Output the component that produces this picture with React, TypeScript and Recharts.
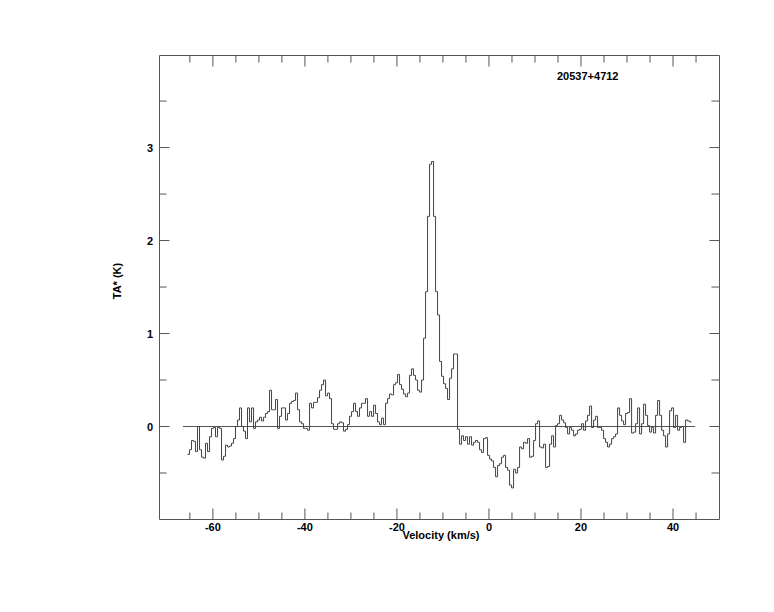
import React from 'react';
import { LineChart, Line, XAxis, YAxis, ReferenceLine } from 'recharts';

// Spectrum of source 20537+4712 : antenna temperature per velocity channel
const SOURCE_NAME = '20537+4712';
const CHANNEL_START = -65.51; // km/s, left edge of first channel
const CHANNEL_WIDTH = 0.4347; // km/s
const TA_VALUES = [
  -0.30, -0.25, -0.15, -0.16, -0.27, 0.00, -0.25, -0.33, -0.34, -0.18,
  -0.27, -0.11, -0.02, -0.01, -0.11, -0.01, -0.02, -0.36, -0.32, -0.20,
  -0.22, -0.21, -0.18, -0.13, 0.00, 0.07, 0.20, 0.00, -0.05, -0.13,
  0.20, 0.05, 0.20, -0.02, 0.05, 0.07, 0.10, 0.06, 0.10, 0.14,
  0.16, 0.39, 0.18, 0.18, 0.29, -0.02, 0.11, 0.20, 0.20, 0.07,
  0.14, 0.25, 0.27, 0.28, 0.36, 0.18, 0.05, 0.03, -0.02, -0.02,
  -0.04, 0.25, 0.20, 0.26, 0.26, 0.31, 0.39, 0.45, 0.50, 0.33,
  0.36, 0.30, 0.03, -0.03, -0.03, 0.03, 0.05, 0.04, -0.05, -0.03,
  0.02, 0.11, 0.16, 0.25, 0.16, 0.11, 0.20, 0.25, 0.25, 0.30,
  0.11, 0.16, 0.11, 0.23, 0.14, 0.05, 0.02, 0.09, 0.02, 0.25,
  0.30, 0.35, 0.34, 0.45, 0.47, 0.56, 0.45, 0.40, 0.35, 0.32,
  0.36, 0.55, 0.62, 0.55, 0.50, 0.39, 0.37, 0.50, 0.95, 1.45,
  2.26, 2.82, 2.85, 2.26, 1.45, 1.20, 0.70, 0.54, 0.46, 0.41,
  0.29, 0.52, 0.62, 0.78, 0.78, -0.03, -0.19, -0.10, -0.15, -0.11,
  -0.19, -0.11, -0.20, -0.17, -0.15, -0.17, -0.25, -0.28, -0.13, -0.12,
  -0.31, -0.35, -0.37, -0.44, -0.54, -0.42, -0.40, -0.33, -0.31, -0.44,
  -0.47, -0.63, -0.66, -0.46, -0.50, -0.44, -0.22, -0.24, -0.17, -0.18,
  -0.13, -0.33, -0.32, -0.15, 0.03, 0.06, -0.22, -0.23, -0.19, -0.44,
  -0.43, -0.19, -0.10, -0.22, 0.01, 0.03, 0.12, 0.07, 0.04, -0.01,
  -0.08, -0.01, -0.04, -0.10, -0.08, -0.04, -0.03, 0.03, -0.04, 0.06,
  0.12, 0.22, -0.01, 0.07, 0.11, -0.01, -0.01, -0.04, -0.13, -0.17,
  -0.22, -0.19, -0.13, -0.11, -0.08, 0.20, 0.12, 0.06, 0.02, 0.14,
  0.15, 0.30, -0.07, -0.06, 0.03, 0.20, -0.08, 0.03, 0.24, 0.12,
  0.01, -0.06, -0.01, -0.07, 0.12, 0.28, 0.12, -0.04, -0.10, -0.22,
  -0.08, 0.17, 0.20, -0.01, 0.12, -0.04, -0.01, 0.00, -0.17, 0.07,
  0.06, 0.05,
];
const X_TICKS = [-65, -60, -55, -50, -45, -40, -35, -30, -25, -20, -15, -10, -5, 0, 5, 10, 15, 20, 25, 30, 35, 40, 45];
const X_LABELS = [-60, -40, -20, 0, 20, 40];
const Y_TICKS = [-0.5, 0, 0.5, 1, 1.5, 2, 2.5, 3, 3.5];
const Y_LABELS = [0, 1, 2, 3];
const BASELINE_RANGE = [-66.5, 44.8];
const X_DOMAIN = [-71.6, 50.1];
const Y_DOMAIN = [-1, 3.99];

const data = TA_VALUES.map((t, i) => ({ v: CHANNEL_START + i * CHANNEL_WIDTH, t }));
data.push({ v: CHANNEL_START + TA_VALUES.length * CHANNEL_WIDTH, t: TA_VALUES[TA_VALUES.length - 1] });

const AX = '#555';
const FONT = '"Liberation Sans", Arial, Helvetica, sans-serif';

const BottomTick = (props: any) => {
  const { x, y, payload } = props;
  const v = payload.value;
  const major = X_LABELS.includes(v);
  return (
    <g>
      <line x1={x} x2={x} y1={y} y2={y - (major ? 11 : 7)} stroke={AX} strokeWidth={1} />
      {major && (
        <text x={x} y={y + 11} textAnchor="middle" fontSize={11} fontWeight="bold" fontFamily={FONT} fill="#000">
          {`${v}`}
        </text>
      )}
    </g>
  );
};

const TopTick = (props: any) => {
  const { x, y, payload } = props;
  const major = X_LABELS.includes(payload.value);
  return <line x1={x} x2={x} y1={y} y2={y + (major ? 11 : 7)} stroke={AX} strokeWidth={1} />;
};

const LeftTick = (props: any) => {
  const { x, y, payload } = props;
  const v = payload.value;
  const major = Y_LABELS.includes(v);
  return (
    <g>
      <line x1={x} x2={x + (major ? 10 : 7)} y1={y} y2={y} stroke={AX} strokeWidth={1} />
      {major && (
        <text x={x - 6.5} y={y + 4.5} textAnchor="end" fontSize={11} fontWeight="bold" fontFamily={FONT} fill="#000">
          {`${v}`}
        </text>
      )}
    </g>
  );
};

const RightTick = (props: any) => {
  const { x, y, payload } = props;
  const major = Y_LABELS.includes(payload.value);
  return <line x1={x} x2={x - (major ? 10 : 8)} y1={y} y2={y} stroke={AX} strokeWidth={1} />;
};

export default function App() {
  const W = 758;
  const H = 596;
  return (
    <div style={{ position: 'relative', width: W, height: H }}>
      <LineChart
        width={W}
        height={H}
        data={data}
        margin={{ top: 37.5, right: 36.5, bottom: 54.5, left: 111.5 }}
      >
        <XAxis
          xAxisId="bottom"
          dataKey="v"
          type="number"
          orientation="bottom"
          domain={X_DOMAIN}
          allowDataOverflow
          ticks={X_TICKS}
          interval={0}
          height={30}
          tickSize={0}
          tickMargin={0}
          tickLine={false}
          axisLine={{ stroke: AX, strokeWidth: 1 }}
          tick={<BottomTick />}
        />
        <XAxis
          xAxisId="top"
          dataKey="v"
          type="number"
          orientation="top"
          domain={X_DOMAIN}
          allowDataOverflow
          ticks={X_TICKS}
          interval={0}
          height={10}
          tickSize={0}
          tickMargin={0}
          tickLine={false}
          axisLine={{ stroke: AX, strokeWidth: 1 }}
          tick={<TopTick />}
        />
        <YAxis
          yAxisId="left"
          type="number"
          orientation="left"
          domain={Y_DOMAIN}
          allowDataOverflow
          ticks={Y_TICKS}
          interval={0}
          width={40}
          tickSize={0}
          tickMargin={0}
          tickLine={false}
          axisLine={{ stroke: AX, strokeWidth: 1 }}
          tick={<LeftTick />}
        />
        <YAxis
          yAxisId="right"
          type="number"
          orientation="right"
          domain={Y_DOMAIN}
          allowDataOverflow
          ticks={Y_TICKS}
          interval={0}
          width={10}
          tickSize={0}
          tickMargin={0}
          tickLine={false}
          axisLine={{ stroke: AX, strokeWidth: 1 }}
          tick={<RightTick />}
        />
        <ReferenceLine
          xAxisId="bottom"
          yAxisId="left"
          segment={[
            { x: BASELINE_RANGE[0], y: 0 },
            { x: BASELINE_RANGE[1], y: 0 },
          ]}
          stroke={AX}
          strokeWidth={1}
        />
        <Line
          xAxisId="bottom"
          yAxisId="left"
          dataKey="t"
          type="stepAfter"
          stroke="#444"
          strokeWidth={1}
          dot={false}
          activeDot={false}
          isAnimationActive={false}
        />
      </LineChart>
      <svg
        width={W}
        height={H}
        style={{ position: 'absolute', left: 0, top: 0, pointerEvents: 'none' }}
      >
        <text x={549} y={71.5} fontSize={11} fontWeight="bold" fontFamily={FONT} fill="#000">
          {SOURCE_NAME}
        </text>
        <text x={433} y={531} textAnchor="middle" fontSize={11} fontWeight="bold" fontFamily={FONT} fill="#000">
          Velocity (km/s)
        </text>
        <text
          x={113}
          y={273}
          textAnchor="middle"
          fontSize={11}
          fontWeight="bold"
          fontFamily={FONT}
          fill="#000"
          transform="rotate(-90, 113, 273)"
        >
          TA* (K)
        </text>
      </svg>
    </div>
  );
}
